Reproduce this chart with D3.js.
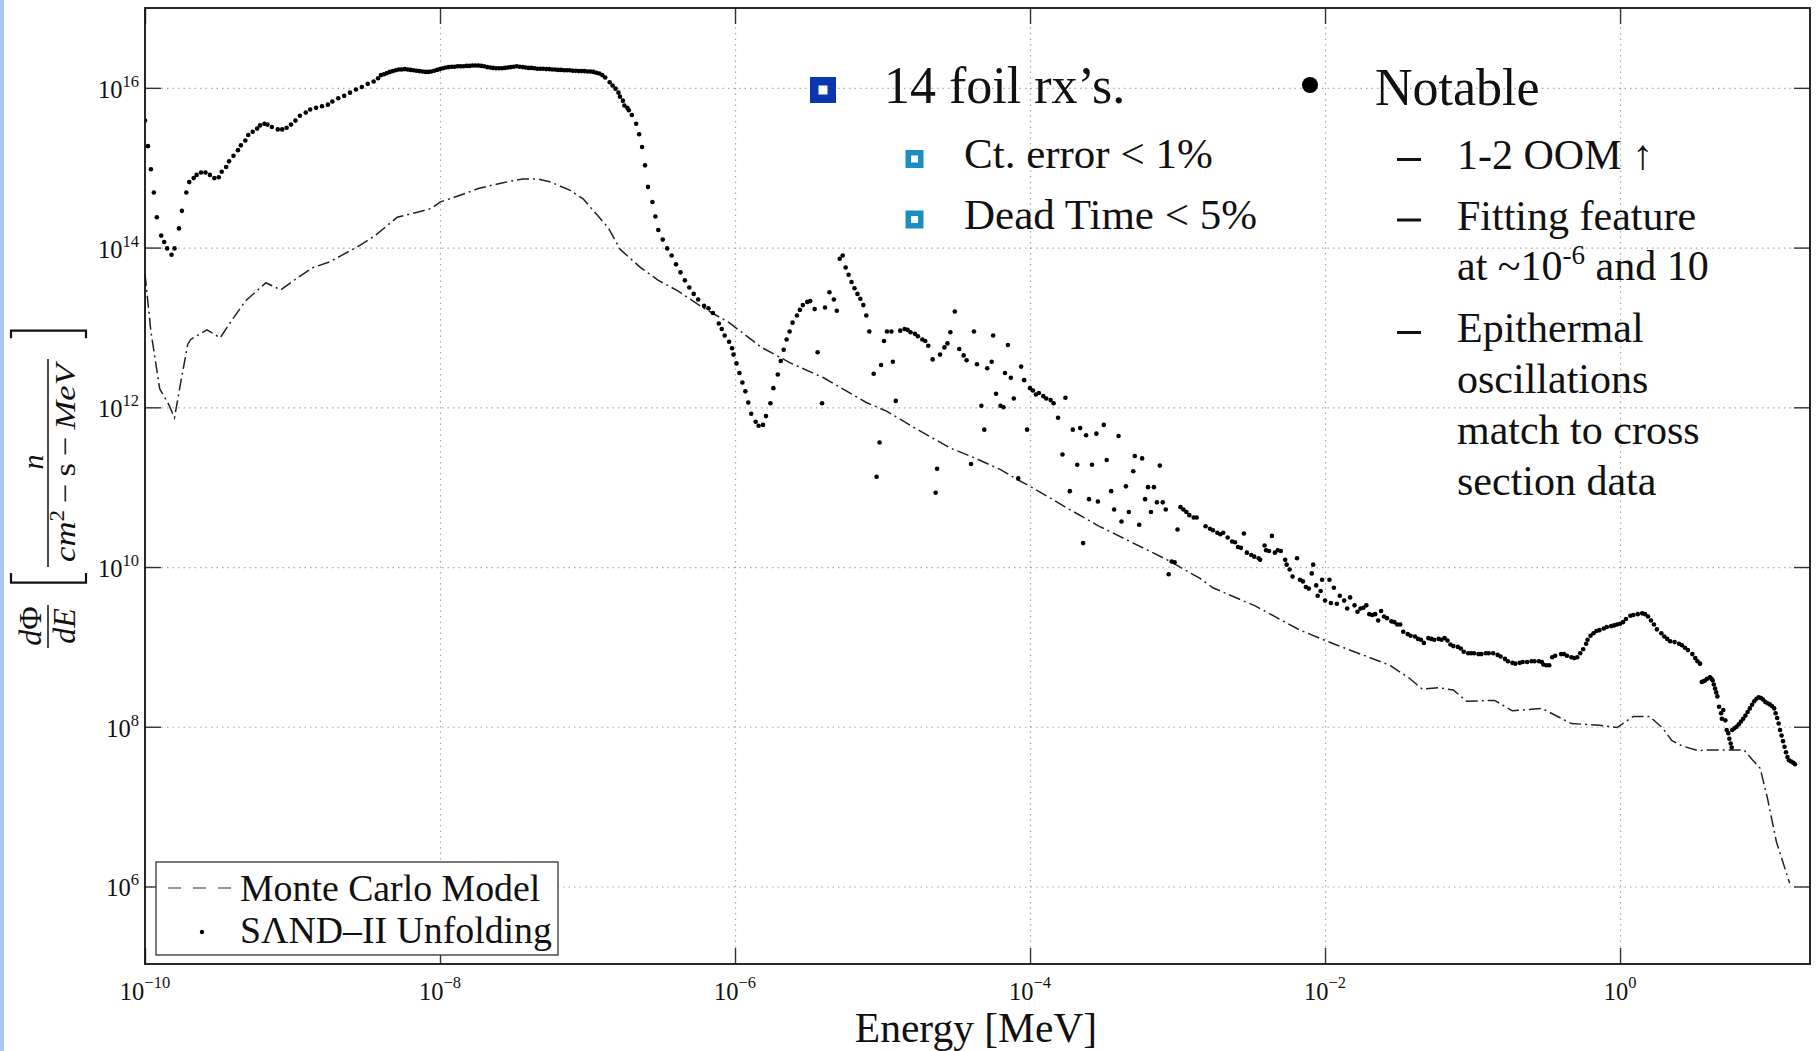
<!DOCTYPE html>
<html><head><meta charset="utf-8">
<script src="https://cdn.jsdelivr.net/npm/d3@7"></script>
<style>
body{margin:0;background:#fff;}
svg{display:block;font-family:"Liberation Serif","Times New Roman",serif;}
</style>
</head><body>
<svg id="chart" width="1817" height="1051"></svg>
<script>
// ---------- data (log10 values) ----------
const xTickExps = [-10, -8, -6, -4, -2, 0];
const yTickExps = [6, 8, 10, 12, 14, 16];

// SAND-II unfolding: log10(E [MeV])
const sandLogE = [
-10.00,-9.98,-9.96,-9.94,-9.92,-9.89,-9.87,-9.85,-9.82,-9.80,-9.77,-9.75,-9.72,-9.70,-9.67,-9.65,-9.62,-9.59,-9.56,-9.53,
-9.50,-9.48,-9.45,-9.43,-9.40,-9.37,-9.35,-9.32,-9.30,-9.27,-9.24,-9.22,-9.19,-9.17,-9.14,-9.10,-9.07,-9.04,-9.01,-8.98,
-8.95,-8.91,-8.88,-8.84,-8.80,-8.76,-8.73,-8.69,-8.65,-8.61,-8.57,-8.53,-8.49,-8.45,-8.42,
-8.40,-8.38,-8.36,-8.34,-8.32,-8.30,-8.28,-8.26,-8.24,-8.22,-8.20,-8.18,-8.16,-8.14,-8.12,-8.10,-8.08,-8.06,-8.04,-8.02,
-8.00,-7.98,-7.96,-7.94,-7.92,-7.90,-7.88,-7.86,-7.84,-7.82,-7.80,-7.78,-7.76,-7.74,-7.72,-7.70,-7.68,-7.66,-7.64,-7.62,
-7.60,-7.58,-7.56,-7.54,-7.52,-7.50,-7.48,-7.46,-7.44,-7.42,-7.40,-7.38,-7.36,-7.34,-7.32,-7.30,-7.28,-7.26,-7.24,-7.22,
-7.20,-7.18,-7.16,-7.14,-7.12,-7.10,-7.08,-7.06,-7.04,-7.02,-7.00,-6.98,-6.96,-6.94,-6.92,
-6.90,-6.88,-6.85,-6.83,-6.81,-6.79,-6.78,-6.76,-6.75,-6.73,-6.72,-6.70,-6.67,-6.65,-6.63,-6.61,-6.59,-6.56,-6.54,-6.52,
-6.49,-6.46,-6.43,-6.40,-6.37,-6.34,-6.31,-6.28,-6.25,-6.21,
-6.18,-6.15,-6.11,-6.09,-6.07,-6.04,-6.02,-6.01,-5.99,-5.97,-5.95,-5.93,-5.91,-5.89,-5.86,-5.84,-5.81,-5.79,-5.76,-5.74,
-5.71,-5.69,-5.67,-5.65,-5.63,-5.61,-5.58,-5.56,-5.54,-5.51,-5.49,-5.46,-5.44,-5.41,-5.39,-5.36,-5.33,-5.31,-5.29,-5.27,
-5.25,-5.23,-5.21,-5.19,-5.17,-5.15,-5.13,-5.11,-5.09,-5.06,-5.04,-5.02,-5.01,-4.99,-4.97,-4.94,-4.93,-4.91,-4.88,-4.85,
-4.83,-4.81,-4.78,-4.76,-4.73,-4.71,-4.69,-4.66,-4.64,-4.63,-4.61,-4.58,-4.56,-4.54,-4.51,-4.48,-4.45,-4.43,-4.40,-4.38,
-4.36,-4.33,-4.31,-4.29,-4.26,-4.25,-4.23,-4.20,-4.18,-4.17,-4.15,-4.13,-4.11,-4.08,-4.06,-4.04,-4.02,-4.00,-3.98,-3.96,
-3.94,-3.91,-3.89,-3.86,-3.84,-3.81,-3.78,-3.76,-3.73,-3.71,-3.68,-3.66,-3.64,-3.62,-3.60,-3.58,-3.55,-3.54,-3.50,-3.48,
-3.45,-3.43,-3.40,-3.38,-3.35,-3.33,-3.30,-3.29,-3.26,-3.24,-3.22,-3.20,-3.18,-3.16,-3.14,-3.12,-3.10,-3.08,-3.06,-3.04,
-3.02,-3.00,-2.98,-2.96,-2.94,-2.92,-2.89,-2.87,
-2.81,-2.78,-2.76,-2.73,-2.71,-2.69,-2.66,-2.63,-2.61,-2.59,-2.57,-2.55,-2.53,-2.50,-2.48,-2.45,-2.44,-2.41,-2.40,-2.38,
-2.36,-2.34,-2.32,-2.30,-2.27,-2.26,-2.24,-2.22,-2.19,-2.17,-2.15,-2.13,-2.11,-2.09,-2.08,-2.06,-2.05,-2.03,-2.02,-2.00,
-1.97,-1.96,-1.94,-1.92,-1.90,-1.87,-1.85,-1.83,-1.80,-1.78,-1.76,-1.74,-1.72,-1.70,-1.68,-1.66,-1.64,-1.62,-1.60,-1.58,
-1.55,-1.53,-1.51,-1.49,-1.47,-1.44,-1.42,-1.39,-1.37,-1.35,-1.33,-1.30,-1.28,-1.26,-1.23,-1.21,-1.19,-1.17,-1.15,-1.13,
-1.10,-1.08,-1.06,-1.03,-1.01,-0.99,-0.96,-0.94,-0.91,-0.89,-0.86,-0.83,-0.81,-0.78,-0.76,-0.73,-0.71,-0.68,-0.66,-0.63,
-0.60,-0.58,-0.55,-0.53,-0.52,-0.50,-0.48,-0.46,-0.44,-0.40,-0.38,-0.36,-0.33,-0.31,-0.29,-0.27,-0.25,-0.23,-0.22,-0.20,
-0.18,-0.16,-0.14,-0.11,-0.09,-0.06,-0.04,-0.02,0.00,0.02,0.04,0.07,0.09,0.12,0.15,0.17,0.19,0.21,0.23,0.25,
0.28,0.30,0.32,0.34,0.37,0.40,0.42,0.44,0.46,0.49,0.51,0.525,0.542,
0.554,0.565,0.576,0.59,0.61,0.62,0.628,0.636,0.644,0.652,0.66,0.671,0.685,0.69,0.70,0.714,0.723,0.734,0.741,0.75,0.757,
0.760,0.775,0.790,0.805,0.820,0.835,0.850,0.865,0.880,0.895,0.910,0.925,0.940,0.955,0.970,0.985,1.000,1.015,1.030,1.045,
1.055,1.065,1.075,1.085,1.095,1.105,1.115,1.125,1.135,1.145,1.160,1.175,1.186
];
// SAND-II unfolding: log10(dPhi/dE)
const sandLogPhi = [
15.59,15.27,14.98,14.69,14.38,14.15,14.07,13.99,13.91,13.99,14.24,14.46,14.69,14.82,14.87,14.91,14.94,14.94,14.91,14.87,
14.88,14.95,15.01,15.08,15.15,15.22,15.28,15.34,15.41,15.45,15.49,15.53,15.55,15.54,15.51,15.48,15.48,15.50,15.54,15.59,
15.65,15.69,15.73,15.75,15.77,15.79,15.83,15.87,15.90,15.94,15.98,16.01,16.05,16.08,16.12,
16.16,16.17,16.185,16.20,16.21,16.22,16.23,16.23,16.235,16.23,16.225,16.22,16.215,16.21,16.205,16.20,16.20,16.205,16.215,16.225,
16.235,16.245,16.255,16.26,16.265,16.265,16.27,16.27,16.27,16.275,16.275,16.28,16.28,16.28,16.275,16.27,16.26,16.255,16.25,16.245,
16.245,16.245,16.25,16.255,16.26,16.265,16.27,16.265,16.26,16.255,16.25,16.25,16.245,16.24,16.24,16.24,16.235,16.235,16.23,16.23,
16.225,16.225,16.22,16.22,16.22,16.215,16.215,16.21,16.21,16.21,16.205,16.205,16.20,16.19,16.18,
16.16,16.13,16.07,16.03,15.99,15.94,15.89,15.84,15.78,15.75,15.72,15.66,15.55,15.42,15.26,15.03,14.76,14.57,14.39,14.22,
14.10,13.99,13.90,13.79,13.69,13.59,13.50,13.42,13.35,13.27,
13.24,13.18,13.05,12.98,12.90,12.82,12.74,12.66,12.55,12.43,12.31,12.20,12.06,11.92,11.82,11.77,11.78,11.89,12.05,12.24,
12.41,12.58,12.72,12.85,12.95,13.06,13.15,13.22,13.28,13.32,13.33,13.23,12.69,12.05,13.25,13.44,13.35,13.21,13.86,13.90,
13.75,13.66,13.57,13.49,13.42,13.36,13.28,13.15,12.95,12.42,11.13,11.56,12.53,12.83,12.95,12.95,12.57,12.08,12.96,12.98,
12.97,12.94,12.92,12.89,12.85,12.83,12.77,12.60,10.93,11.23,12.66,12.75,12.80,12.94,13.20,12.73,12.65,12.59,11.29,12.95,
12.54,12.02,11.72,12.49,12.57,12.90,12.17,12.02,12.00,12.43,12.78,12.37,12.11,11.11,12.51,12.34,11.72,12.24,12.21,12.16,
12.18,12.14,12.11,12.09,12.05,11.87,11.41,12.12,10.95,11.72,11.28,11.74,10.30,11.65,10.85,11.28,11.67,10.82,11.78,11.34,
10.95,10.72,11.64,10.57,11.01,10.69,11.20,11.39,10.53,11.36,10.85,11.00,10.69,11.00,10.81,11.27,10.81,10.72,9.91,10.07,
10.06,10.47,10.75,10.72,10.69,10.65,10.62,10.62,
10.51,10.48,10.46,10.43,10.41,10.43,10.37,10.32,10.31,10.25,10.24,10.42,10.18,10.15,10.13,10.11,10.09,10.27,10.21,10.20,
10.39,10.18,10.21,10.20,10.09,10.03,9.97,9.88,10.11,9.84,9.82,9.75,9.73,9.92,10.03,9.77,9.64,9.70,9.84,9.58,
9.84,9.55,9.74,9.54,9.64,9.58,9.48,9.62,9.52,9.44,9.48,9.49,9.52,9.41,9.40,9.41,9.33,9.45,9.38,9.36,
9.32,9.31,9.28,9.28,9.19,9.16,9.14,9.13,9.10,9.09,9.05,9.11,9.10,9.09,9.10,9.09,9.11,9.08,9.03,9.01,
9.00,8.98,8.94,8.92,8.92,8.92,8.91,8.91,8.92,8.92,8.92,8.90,8.88,8.85,8.82,8.80,8.79,8.80,8.81,8.81,
8.82,8.82,8.82,8.81,8.78,8.77,8.77,8.87,8.89,8.91,8.91,8.89,8.87,8.86,8.87,8.92,8.97,9.04,9.09,9.14,
9.17,9.20,9.21,9.23,9.25,9.26,9.27,9.28,9.29,9.31,9.35,9.39,9.40,9.41,9.42,9.41,9.38,9.33,9.28,9.22,
9.17,9.13,9.10,9.07,9.06,9.04,9.02,8.99,8.96,8.91,8.86,8.82,8.79,
8.56,8.57,8.58,8.60,8.62,8.60,8.58,8.53,8.48,8.43,8.38,8.25,8.17,8.10,8.21,8.08,7.96,7.92,7.85,7.79,7.74,
7.96,7.98,8.00,8.03,8.065,8.10,8.14,8.185,8.23,8.275,8.32,8.35,8.37,8.36,8.34,8.31,8.295,8.28,8.26,8.23,
8.17,8.11,8.04,7.96,7.89,7.82,7.75,7.68,7.62,7.58,7.565,7.55,7.53
];

// Monte Carlo model
const mcLogE = [
-10.00,-9.96,-9.90,-9.84,-9.80,-9.76,-9.71,-9.69,-9.58,-9.49,-9.43,-9.32,-9.18,-9.08,-8.96,-8.86,-8.75,-8.67,-8.54,-8.44,
-8.29,-8.16,-8.06,-8.00,-7.84,-7.74,-7.58,-7.44,-7.34,-7.25,-7.12,-7.03,-6.94,-6.86,-6.78,-6.64,-6.52,-6.39,-6.22,-6.04,
-5.82,-5.63,-5.40,-5.11,-4.97,-4.79,-4.54,-4.38,-4.20,-4.09,-3.98,-3.75,-3.53,-3.30,-3.07,-2.85,-2.76,-2.47,-2.17,-1.93,
-1.56,-1.43,-1.34,-1.23,-1.13,-1.04,-0.85,-0.73,-0.53,-0.33,-0.14,-0.02,0.09,0.20,0.29,0.35,0.42,0.53,0.59,0.84,
0.90,0.95,1.00,1.06,1.15
];
const mcLogPhi = [
13.67,12.95,12.23,12.04,11.87,12.29,12.79,12.85,12.97,12.87,13.04,13.33,13.56,13.47,13.63,13.75,13.82,13.90,14.03,14.15,
14.38,14.44,14.49,14.57,14.67,14.74,14.81,14.86,14.86,14.82,14.72,14.61,14.42,14.25,13.98,13.75,13.59,13.46,13.25,13.06,
12.75,12.56,12.37,12.06,11.95,11.75,11.49,11.37,11.22,11.10,10.99,10.74,10.51,10.30,10.09,9.86,9.74,9.51,9.21,9.03,
8.77,8.61,8.47,8.49,8.46,8.32,8.33,8.20,8.23,8.04,8.02,7.99,8.13,8.13,7.98,7.83,7.76,7.70,7.71,7.71,
7.58,7.48,7.10,6.56,6.04
];

const legendLabels = ["Monte Carlo Model", "S\u039BND\u2013II Unfolding"];
const notesLeftTitle = "14 foil rx\u2019s.";
const notesLeftItems = ["Ct. error < 1%", "Dead Time < 5%"];
const notesRightTitle = "Notable";
const notesRightItems = ["1-2 OOM \u2191", "Fitting feature", "at ~10|-6| and 10", "Epithermal", "oscillations", "match to cross", "section data"];
const xAxisTitle = "Energy [MeV]";

// ---------- layout ----------
const W = 1817, H = 1051;
const L = 145, R = 1810, T = 8, B = 964;
const svg = d3.select("#chart");
svg.append("rect").attr("width", W).attr("height", H).attr("fill", "#fff");
svg.append("rect").attr("x", 0).attr("y", 0).attr("width", 4).attr("height", H).attr("fill", "#a9c9f2");

const x = d3.scaleLog().domain([1e-10, 19.4]).range([L, R]);
const y = d3.scaleLog().domain([1.07e5, 1e17]).range([B, T]);
const xTicks = xTickExps.map(e => Math.pow(10, e));
const yTicks = yTickExps.map(e => Math.pow(10, e));

// grid
svg.append("g").attr("transform", `translate(0,${B})`)
  .call(d3.axisBottom(x).tickValues(xTicks.slice(1)).tickSize(-(B - T)).tickFormat(""))
  .call(g => { g.select(".domain").remove();
    g.selectAll("line").attr("stroke", "#aaa").attr("stroke-width", 1.2).attr("stroke-dasharray", "1.5,4"); });
svg.append("g").attr("transform", `translate(${L},0)`)
  .call(d3.axisLeft(y).tickValues(yTicks).tickSize(-(R - L)).tickFormat(""))
  .call(g => { g.select(".domain").remove();
    g.selectAll("line").attr("stroke", "#aaa").attr("stroke-width", 1.2).attr("stroke-dasharray", "1.5,4"); });

// clip
svg.append("clipPath").attr("id", "clip").append("rect")
  .attr("x", L).attr("y", T).attr("width", R - L).attr("height", B - T);

// Monte Carlo line
const mc = mcLogE.map((e, i) => ({E: Math.pow(10, e), phi: Math.pow(10, mcLogPhi[i])}));
svg.append("path").datum(mc)
  .attr("clip-path", "url(#clip)")
  .attr("d", d3.line().x(d => x(d.E)).y(d => y(d.phi)))
  .attr("fill", "none").attr("stroke", "#222").attr("stroke-width", 1.5)
  .attr("stroke-dasharray", "12,4,2,4");

// SAND-II points
const sand = sandLogE.map((e, i) => ({E: Math.pow(10, e), phi: Math.pow(10, sandLogPhi[i])}));
svg.append("g").attr("clip-path", "url(#clip)")
  .selectAll("circle").data(sand).join("circle")
  .attr("cx", d => x(d.E)).attr("cy", d => y(d.phi)).attr("r", 2.3).attr("fill", "#000");

// ticks (inward, mirrored)
const tickStyle = g => { g.select(".domain").remove();
  g.selectAll("line").attr("stroke", "#333").attr("stroke-width", 1.4); };
svg.append("g").attr("transform", `translate(0,${B})`)
  .call(d3.axisBottom(x).tickValues(xTicks).tickSize(-16).tickFormat("")).call(tickStyle);
svg.append("g").attr("transform", `translate(0,${T})`)
  .call(d3.axisTop(x).tickValues(xTicks).tickSize(-16).tickFormat("")).call(tickStyle);
svg.append("g").attr("transform", `translate(${L},0)`)
  .call(d3.axisLeft(y).tickValues(yTicks).tickSize(-16).tickFormat("")).call(tickStyle);
svg.append("g").attr("transform", `translate(${R},0)`)
  .call(d3.axisRight(y).tickValues(yTicks).tickSize(-16).tickFormat("")).call(tickStyle);

// frame
svg.append("rect").attr("x", L).attr("y", T).attr("width", R - L).attr("height", B - T)
  .attr("fill", "none").attr("stroke", "#111").attr("stroke-width", 1.8);

// tick labels
const yl = svg.append("g").selectAll("text").data(yTickExps).join("text")
  .attr("x", L - 6).attr("y", d => y(Math.pow(10, d)) + 10)
  .attr("text-anchor", "end").attr("fill", "#111");
yl.append("tspan").attr("font-size", 24.5).text("10");
yl.append("tspan").attr("font-size", 16.5).attr("dy", -11).text(d => String(d));

const xl = svg.append("g").selectAll("text").data(xTickExps).join("text")
  .attr("x", d => x(Math.pow(10, d))).attr("y", B + 36)
  .attr("text-anchor", "middle").attr("fill", "#111");
xl.append("tspan").attr("font-size", 24.5).text("10");
xl.append("tspan").attr("font-size", 16.5).attr("dy", -12).text(d => d < 0 ? "\u2212" + (-d) : String(d));

// x title
svg.append("text").attr("x", 976).attr("y", 1042).attr("text-anchor", "middle")
  .attr("font-size", 41.5).attr("fill", "#111").text(xAxisTitle);

// y title (rotated math)
const yt = svg.append("g").attr("transform", "translate(48,600) rotate(-90)").attr("fill", "#111");
const dphi = yt.append("text").attr("x", -26).attr("y", -7).attr("text-anchor", "middle").attr("font-size", 32);
dphi.append("tspan").attr("font-style", "italic").text("d");
dphi.append("tspan").text("\u03A6");
yt.append("line").attr("x1", -48).attr("x2", -5).attr("y1", 0).attr("y2", 0).attr("stroke", "#111").attr("stroke-width", 1.5);
yt.append("text").attr("x", -26).attr("y", 27).attr("text-anchor", "middle").attr("font-size", 32).attr("font-style", "italic").text("dE");
yt.append("path").attr("d", "M27,-37 L17.3,-37 L17.3,38 L27,38").attr("fill", "none").attr("stroke", "#111").attr("stroke-width", 2.2);
yt.append("path").attr("d", "M261.7,-37 L269.3,-37 L269.3,38 L261.7,38").attr("fill", "none").attr("stroke", "#111").attr("stroke-width", 2.2);
yt.append("line").attr("x1", 33).attr("x2", 241).attr("y1", 0).attr("y2", 0).attr("stroke", "#111").attr("stroke-width", 1.5);
yt.append("text").attr("x", 138).attr("y", -5).attr("text-anchor", "middle").attr("font-size", 30).attr("font-style", "italic").text("n");
const den = yt.append("text").attr("x", 137).attr("y", 27).attr("text-anchor", "middle").attr("font-size", 30)
  .attr("textLength", 198).attr("lengthAdjust", "spacingAndGlyphs");
den.append("tspan").attr("font-style", "italic").text("cm");
den.append("tspan").attr("font-size", 20).attr("dy", -11).text("2");
den.append("tspan").attr("dy", 11).text("\u2009\u2212\u2009s\u2009\u2212\u2009");
den.append("tspan").attr("font-style", "italic").text("MeV");

// legend
const lg = svg.append("g");
lg.append("rect").attr("x", 156).attr("y", 862).attr("width", 402).attr("height", 93)
  .attr("fill", "#fff").attr("stroke", "#333").attr("stroke-width", 1.3);
lg.append("line").attr("x1", 168).attr("x2", 231).attr("y1", 888).attr("y2", 888)
  .attr("stroke", "#777").attr("stroke-width", 1.4).attr("stroke-dasharray", "13,12");
lg.append("circle").attr("cx", 202).attr("cy", 932).attr("r", 2.2).attr("fill", "#000");
lg.selectAll("text.lab").data(legendLabels).join("text").attr("class", "lab")
  .attr("x", 240).attr("y", (d, i) => 901 + i * 42).attr("font-size", 37.8).attr("fill", "#111").text(d => d);

// slide annotations
const an = svg.append("g").attr("fill", "#111");
an.append("rect").attr("x", 810).attr("y", 77).attr("width", 26).attr("height", 26).attr("fill", "#0a36b0");
an.append("rect").attr("x", 818.5).attr("y", 85.5).attr("width", 9).attr("height", 9).attr("fill", "#fff");
an.append("text").attr("x", 884).attr("y", 103).attr("font-size", 52).text(notesLeftTitle);
notesLeftItems.forEach((t, i) => {
  const yy = 168 + i * 60.5;
  an.append("rect").attr("x", 905.5).attr("y", yy - 18).attr("width", 18).attr("height", 18).attr("fill", "#1a8ec1");
  an.append("rect").attr("x", 911).attr("y", yy - 12.5).attr("width", 7).attr("height", 7).attr("fill", "#fff");
  an.append("text").attr("x", 964).attr("y", yy).attr("font-size", 43).text(t);
});
an.append("circle").attr("cx", 1310).attr("cy", 85).attr("r", 8).attr("fill", "#000");
an.append("text").attr("x", 1375).attr("y", 105).attr("font-size", 52).text(notesRightTitle);
const itemY = [169, 229.5, 280, 342, 392.5, 444, 494.5];
const dashed = [0, 1, 3];
notesRightItems.forEach((t, i) => {
  if (dashed.includes(i)) an.append("rect").attr("x", 1397).attr("y", itemY[i] - 11).attr("width", 24).attr("height", 3).attr("fill", "#111");
  const tx = an.append("text").attr("x", 1457).attr("y", itemY[i]).attr("font-size", 42);
  const parts = t.split("|");
  if (parts.length === 3) {
    tx.append("tspan").text(parts[0]);
    tx.append("tspan").attr("font-size", 27).attr("dy", -16).text(parts[1]);
    tx.append("tspan").attr("dy", 16).text(parts[2]);
  } else tx.text(t);
});
</script>
</body></html>
